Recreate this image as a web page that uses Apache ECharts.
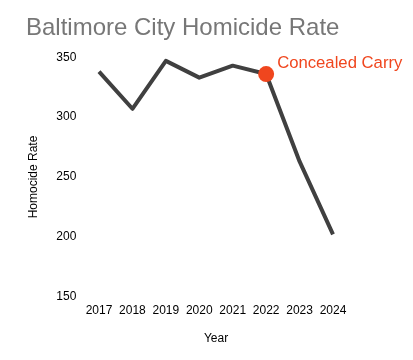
<!DOCTYPE html>
<html>
<head>
<meta charset="utf-8">
<script src="https://cdn.jsdelivr.net/npm/echarts@6/dist/echarts.min.js"></script>
<style>
html,body{margin:0;padding:0;background:#fff;}
#chart{width:413px;height:360px;}
</style>
</head>
<body>
<div id="chart"></div>
<script>
const years = ['2017','2018','2019','2020','2021','2022','2023','2024'];
const rates = [338, 307, 347, 333, 343, 336, 263, 202];
const yTicks = [150, 200, 250, 300, 350];
const eventYear = '2022';
const eventLabel = 'Concealed Carry';
const titleText = 'Baltimore City Homicide Rate';

const eventIdx = years.indexOf(eventYear);
const chart = echarts.init(document.getElementById('chart'), null, {renderer: 'canvas'});
chart.setOption({
  animation: false,
  backgroundColor: '#fff',
  title: {
    text: titleText,
    left: 21, top: 11,
    textStyle: {color: '#777777', fontSize: 24, fontWeight: 'normal', fontFamily: 'Liberation Sans, Arial, sans-serif'}
  },
  grid: {left: 82.3, right: 63.3, top: 57.3, bottom: 63.3},
  xAxis: {
    type: 'category',
    data: years,
    boundaryGap: true,
    name: 'Year',
    nameLocation: 'middle',
    nameGap: 36,
    nameTextStyle: {color: '#000', fontSize: 12, fontFamily: 'Liberation Sans, Arial, sans-serif'},
    axisLine: {show: false},
    axisTick: {show: false},
    axisLabel: {color: '#000', fontSize: 12, margin: 8, interval: 0, fontFamily: 'Liberation Sans, Arial, sans-serif'},
    splitLine: {show: false}
  },
  yAxis: {
    type: 'value',
    min: yTicks[0], max: yTicks[yTicks.length - 1], interval: yTicks[1] - yTicks[0],
    name: 'Homocide Rate',
    nameLocation: 'middle',
    nameGap: 43,
    nameTextStyle: {color: '#000', fontSize: 12, fontFamily: 'Liberation Sans, Arial, sans-serif'},
    axisLine: {show: false},
    axisTick: {show: false},
    axisLabel: {color: '#000', fontSize: 12, margin: 6, fontFamily: 'Liberation Sans, Arial, sans-serif'},
    splitLine: {show: false}
  },
  series: [
    {
      type: 'line',
      data: rates,
      symbol: 'none',
      lineStyle: {color: '#404040', width: 4, join: 'round'},
      z: 2
    },
    {
      type: 'scatter',
      data: [[eventYear, rates[eventIdx]]],
      symbolSize: 16,
      itemStyle: {color: '#F0461E', opacity: 1},
      label: {
        show: true,
        position: 'right',
        formatter: eventLabel,
        distance: 3,
        offset: [0, -11],
        color: '#F0461E',
        fontSize: 16.7,
        fontFamily: 'Liberation Sans, Arial, sans-serif'
      },
      z: 3
    }
  ]
});
</script>
</body>
</html>
